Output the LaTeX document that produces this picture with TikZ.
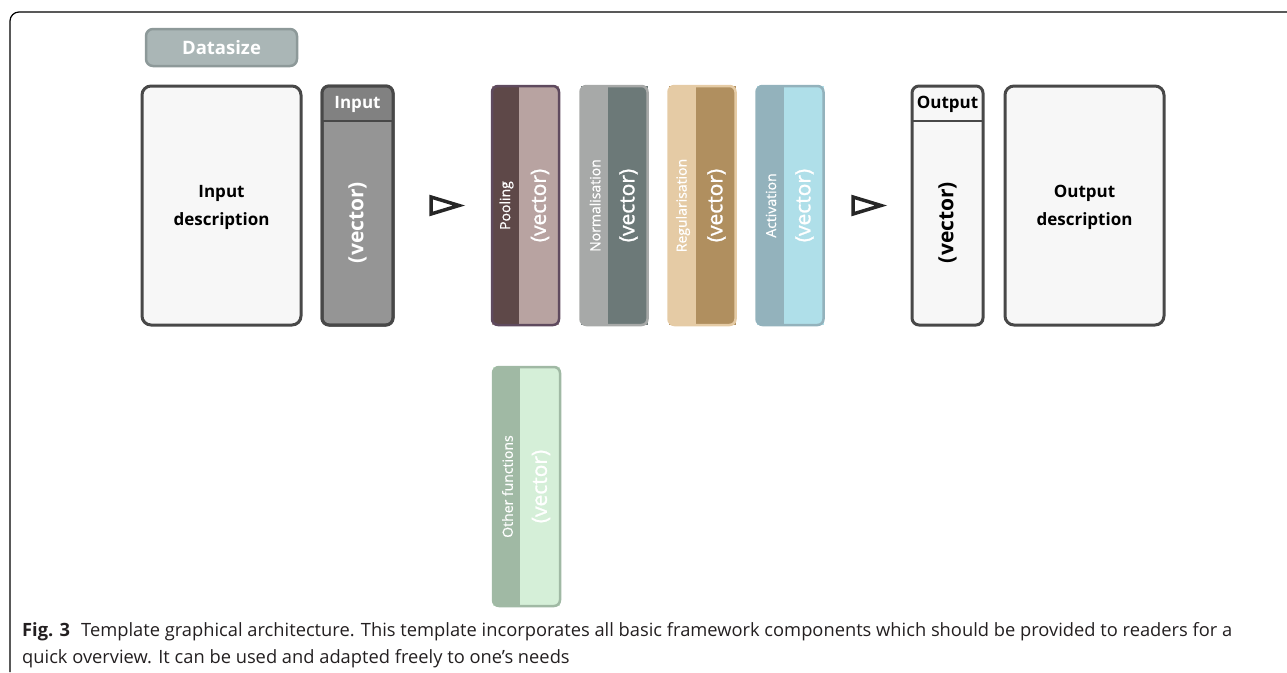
\documentclass[tikz,border=0pt]{standalone}
\usepackage{fontspec}
\setmainfont{Open Sans}
\newfontfamily\semifont[FakeBold=1.2]{Open Sans}
\newfontfamily\medfont[FakeBold=0.6]{Open Sans}
\usetikzlibrary{calc}
\definecolor{edge}{HTML}{484848}
\definecolor{paper}{HTML}{F7F7F7}
\definecolor{dsfill}{HTML}{AAB6B6}
\definecolor{dsedge}{HTML}{8D9999}
\definecolor{inbody}{HTML}{959595}
\definecolor{inhead}{HTML}{818181}
\definecolor{poolL}{HTML}{5E4848}
\definecolor{poolR}{HTML}{B8A3A1}
\definecolor{poolE}{HTML}{5F4A5E}
\definecolor{normL}{HTML}{A7A9A8}
\definecolor{normR}{HTML}{6C7978}
\definecolor{regL}{HTML}{E5CBA5}
\definecolor{regR}{HTML}{B08F5F}
\definecolor{actL}{HTML}{93B2BC}
\definecolor{actR}{HTML}{AFDFE9}
\definecolor{othL}{HTML}{A0B9A4}
\definecolor{othR}{HTML}{D5EFD8}
\definecolor{captxt}{HTML}{231F20}
\tikzset{
  tallbox/.style={draw=edge, line width=3pt, rounded corners=9pt, fill=paper,
    minimum height=239pt, inner sep=0pt, outer sep=0pt},
  fnbox/.style={minimum width=67pt, minimum height=239pt, inner sep=0pt, outer sep=0pt},
  boldlbl/.style={font=\fontsize{17}{21}\selectfont\bfseries, align=center},
  veclbl/.style={rotate=90, font=\fontsize{21}{24}\selectfont\bfseries},
  fnvec/.style={rotate=90, font=\semifont\fontsize{21}{24}\selectfont, text=white},
  fnname/.style={rotate=90, font=\medfont\fontsize{14}{16}\selectfont, text=white},
  flow/.style={draw=black!85, line width=3.5pt, line join=miter},
  captext/.style={anchor=base west, inner sep=0pt, text=captxt, font=\fontsize{18.3}{22}\selectfont},
}
\begin{document}
\begin{tikzpicture}[x=1pt,y=-1pt]
\useasboundingbox (0,0) rectangle (1287,672);
% outer frame
\draw[line width=1.2pt, rounded corners=9pt] (10,672) -- (10,12) -- (1287,12);

% Datasize
\node[draw=dsedge, fill=dsfill, line width=2.5pt, rounded corners=7pt,
  minimum width=151pt, minimum height=37pt, inner sep=0pt, text=white, align=center,
  font=\fontsize{18.5}{22}\selectfont\bfseries] (ds) at (221.5,47.5) {Datasize};

% Input description
\node[tallbox, minimum width=159pt] (indesc) at (221.5,205.5) {};
\node[boldlbl] (indesctxt) at (221.5,207) {Input\\[7pt]description};

% Input vector
\node[tallbox, minimum width=71pt, fill=inbody, rounded corners=7pt] (invec) at (357.5,205.5) {};
\begin{scope}
\clip[rounded corners=7pt] (invec.north west) rectangle (invec.south east);
\fill[inhead] (invec.north west) rectangle ($(invec.north east)+(0,35)$);
\end{scope}
\draw[edge, line width=2.5pt] ($(invec.north west)+(0,35)$) -- ($(invec.north east)+(0,35)$);
\draw[edge, line width=3pt, rounded corners=7pt] (invec.north west) rectangle (invec.south east);
\node[boldlbl, text=white] (inhdr) at ($(invec.north)+(0,18)$) {Input};
\node[veclbl, text=white] (invectxt) at ($(invec.center)+(0,17)$) {(vector)};

% flow triangles
\draw[flow] (431,197) -- (459,205.5) -- (431,214) -- cycle;
\draw[flow] (853,197) -- (881,205.5) -- (853,214) -- cycle;

% function boxes
\foreach \nm/\cx/\cy/\L/\R/\E/\txt in {
  pool/525.5/205.5/poolL/poolR/poolE/Pooling,
  norm/614/205.5/normL/normR/normL/Normalisation,
  reg/702/205.5/regL/regR/regL/Regularisation,
  act/790/205.5/actL/actR/actL/Activation,
  oth/526.5/486.5/othL/othR/othL/Other functions}{
  \node[fnbox, fill=\R] (\nm) at (\cx,\cy) {};
  \begin{scope}
  \clip[rounded corners=6pt] (\nm.north west) rectangle (\nm.south east);
  \fill[\L] (\nm.north west) rectangle ($(\nm.south west)+(27,0)$);
  \end{scope}
  \draw[\E, line width=2.5pt, rounded corners=6pt] (\nm.north west) rectangle (\nm.south east);
  \node[fnname] (\nm-name) at ($(\nm.west)+(14.5,0)$) {\txt};
  \node[fnvec] (\nm-vec) at ($(\nm.west)+(48,0)$) {(vector)};
}

% Output vector
\node[tallbox, minimum width=71pt, rounded corners=7pt] (outvec) at (947.5,205.5) {};
\draw[edge, line width=2.5pt] ($(outvec.north west)+(0,35)$) -- ($(outvec.north east)+(0,35)$);
\node[boldlbl] (outhdr) at ($(outvec.north)+(0,18)$) {Output};
\node[veclbl] (outvectxt) at ($(outvec.center)+(0,17)$) {(vector)};

% Output description
\node[tallbox, minimum width=159pt] (outdesc) at (1084.5,205.5) {};
\node[boldlbl] (outdesctxt) at (1084.5,207) {Output\\[7pt]description};

% caption
\node[captext] (cap1) at (22,636)
  {\textbf{Fig. 3}\hspace{0.6em}Template graphical architecture. This template incorporates all basic framework components which should be provided to readers for a};
\node[captext] (cap2) at (22,663)
  {quick overview. It can be used and adapted freely to one’s needs};
\end{tikzpicture}
\end{document}
